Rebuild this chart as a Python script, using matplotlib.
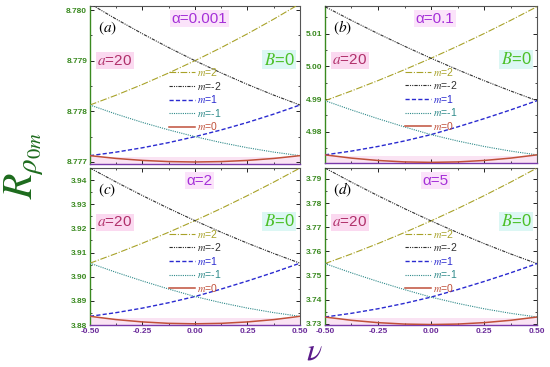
import matplotlib
matplotlib.use("Agg")
import matplotlib.pyplot as plt
from matplotlib.ticker import MultipleLocator, FormatStrFormatter

# ── fonts ──
plt.rcParams.update({
    "font.family": ["Liberation Sans", "DejaVu Sans"],
    "mathtext.fontset": "stix",
    "axes.unicode_minus": False,
})

# ── data ──
nu = [-0.5, -0.375, -0.25, -0.125, 0.0, 0.125, 0.25, 0.375, 0.5]

# panel (a), alpha = 0.001
a_m2 = [8.778125, 8.778320, 8.778531, 8.778758, 8.779000, 8.779258, 8.779531, 8.779820, 8.780125]
a_mm2 = [8.780125, 8.779820, 8.779531, 8.779258, 8.779000, 8.778758, 8.778531, 8.778320, 8.778125]
a_m1 = [8.777125, 8.777195, 8.777281, 8.777383, 8.777500, 8.777633, 8.777781, 8.777945, 8.778125]
a_mm1 = [8.778125, 8.777945, 8.777781, 8.777633, 8.777500, 8.777383, 8.777281, 8.777195, 8.777125]
a_m0 = [8.777125, 8.777070, 8.777031, 8.777008, 8.777000, 8.777008, 8.777031, 8.777070, 8.777125]

# panel (b), alpha = 0.1
b_m2 = [4.98950, 4.99249, 4.99565, 4.99899, 5.00250, 5.00619, 5.01005, 5.01409, 5.01830]
b_mm2 = [5.01830, 5.01409, 5.01005, 5.00619, 5.00250, 4.99899, 4.99565, 4.99249, 4.98950]
b_m1 = [4.97290, 4.97406, 4.97548, 4.97716, 4.97910, 4.98146, 4.98398, 4.98666, 4.98950]
b_mm1 = [4.98950, 4.98666, 4.98398, 4.98146, 4.97910, 4.97716, 4.97548, 4.97406, 4.97290]
b_m0 = [4.97290, 4.97190, 4.97118, 4.97074, 4.97060, 4.97074, 4.97118, 4.97190, 4.97290]

# panel (c), alpha = 2
c_m2 = [3.90560, 3.90961, 3.91388, 3.91841, 3.92320, 3.92826, 3.93358, 3.93916, 3.94500]
c_mm2 = [3.94500, 3.93916, 3.93358, 3.92826, 3.92320, 3.91841, 3.91388, 3.90961, 3.90560]
c_m1 = [3.88360, 3.88513, 3.88700, 3.88923, 3.89180, 3.89489, 3.89823, 3.90179, 3.90560]
c_mm1 = [3.90560, 3.90179, 3.89823, 3.89489, 3.89180, 3.88923, 3.88700, 3.88513, 3.88360]
c_m0 = [3.88360, 3.88224, 3.88128, 3.88069, 3.88050, 3.88069, 3.88128, 3.88224, 3.88360]

# panel (d), alpha = 5
d_m2 = [3.75492, 3.75894, 3.76323, 3.76779, 3.77260, 3.77768, 3.78303, 3.78863, 3.79450]
d_mm2 = [3.79450, 3.78863, 3.78303, 3.77768, 3.77260, 3.76779, 3.76323, 3.75894, 3.75492]
d_m1 = [3.73281, 3.73435, 3.73623, 3.73847, 3.74105, 3.74416, 3.74751, 3.75109, 3.75492]
d_mm1 = [3.75492, 3.75109, 3.74751, 3.74416, 3.74105, 3.73847, 3.73623, 3.73435, 3.73281]
d_m0 = [3.73281, 3.73145, 3.73048, 3.72989, 3.72970, 3.72989, 3.73048, 3.73145, 3.73281]

panel_tags = ["(a)", "(b)", "(c)", "(d)"]
alpha_labels = ["α=0.001", "α=0.1", "α=2", "α=5"]
ylims = [(8.77696, 8.78008), (4.9704, 5.0185), (3.8800, 3.9450), (3.7295, 3.7945)]
ysteps = [0.001, 0.01, 0.01, 0.01]
yfmts = ["%.3f", "%.2f", "%.2f", "%.2f"]
series = [
    [a_m2, a_mm2, a_m1, a_mm1, a_m0],
    [b_m2, b_mm2, b_m1, b_mm1, b_m0],
    [c_m2, c_mm2, c_m1, c_mm1, c_m0],
    [d_m2, d_mm2, d_m1, d_mm1, d_m0],
]
m_labels = ["$m$=2", "$m$=-2", "$m$=1", "$m$=-1", "$m$=0"]

# ── styles ──
line_colors = ["#a8a228", "#303030", "#2a2ad0", "#2f8a8a", "#c0503a"]
line_styles = [(0, (6, 1.5, 1, 1.5)), (0, (3, 1, 1, 1, 1, 1)), (0, (3, 1.6)), (0, (1, 1)), "-"]
line_widths = [0.8, 0.8, 1.0, 0.8, 1.1]
green = "#3a8a20"
purple = "#6a2a9a"

fig = plt.figure(figsize=(5.5, 3.67), dpi=100)
positions = [
    [0.1636, 0.5531, 0.3818, 0.4306],
    [0.5909, 0.5558, 0.3855, 0.4278],
    [0.1636, 0.1144, 0.3818, 0.4278],
    [0.5909, 0.1144, 0.3855, 0.4278],
]

for i, pos in enumerate(positions):
    ax = fig.add_axes(pos)
    lo, hi = ylims[i]
    # faint pink strip along the bottom
    ax.axhspan(lo, lo + (hi - lo) * 0.045, color="#fae3f3", lw=0, zorder=0)
    for k, ys in enumerate(series[i]):
        ax.plot(nu, ys, color=line_colors[k], ls=line_styles[k],
                lw=line_widths[k], label=m_labels[k], zorder=3)

    ax.set_xlim(-0.5, 0.5)
    ax.set_ylim(lo, hi)
    ax.xaxis.set_major_locator(MultipleLocator(0.25))
    ax.xaxis.set_minor_locator(MultipleLocator(0.125))
    ax.xaxis.set_major_formatter(FormatStrFormatter("%.2f"))
    ax.yaxis.set_major_locator(MultipleLocator(ysteps[i]))
    ax.yaxis.set_minor_locator(MultipleLocator(ysteps[i] / 2))
    ax.yaxis.set_major_formatter(FormatStrFormatter(yfmts[i]))
    ax.tick_params(which="both", direction="in", top=True, right=True)
    ax.tick_params(which="major", length=3, width=0.6)
    ax.tick_params(which="minor", length=1.5, width=0.5)
    ax.tick_params(axis="y", labelsize=6, labelcolor=green, pad=2)
    ax.tick_params(axis="x", labelsize=6, labelcolor=purple, pad=2.5)
    for lab in ax.get_xticklabels() + ax.get_yticklabels():
        lab.set_fontweight("bold")
    if i < 2:
        ax.tick_params(axis="x", labelbottom=False)

    ax.spines["left"].set_color(green)
    ax.spines["left"].set_linewidth(1.0)
    ax.spines["bottom"].set_color("#7a3aaa")
    ax.spines["bottom"].set_linewidth(1.0)
    ax.spines["top"].set_color("#555555")
    ax.spines["right"].set_color("#555555")

    # annotations
    ax.text(0.04, 0.86, "$" + panel_tags[i] + "$", transform=ax.transAxes,
            fontsize=11, color="black", ha="left", va="center")
    ax.text(0.52, 0.92, alpha_labels[i], transform=ax.transAxes,
            fontsize=11, color="#a530d8", ha="center", va="center",
            bbox=dict(boxstyle="square,pad=0.1", facecolor="#fbe3fa", edgecolor="none"))
    ax.text(0.035, 0.655, "$a$=20", transform=ax.transAxes,
            fontsize=11, color="#b0306a", ha="left", va="center",
            bbox=dict(boxstyle="square,pad=0.1", facecolor="#fbd9f0", edgecolor="none"))
    ax.text(0.975, 0.66, "$B$=0", transform=ax.transAxes,
            fontsize=12, color="#4cc028", ha="right", va="center",
            bbox=dict(boxstyle="square,pad=0.1", facecolor="#dcf7f4", edgecolor="none"))

    leg = ax.legend(loc="center", bbox_to_anchor=(0.5, 0.41), fontsize=7.5,
                    frameon=False, handlelength=2.5, handletextpad=0.2,
                    labelspacing=0.15, borderpad=0.2)
    for txt, col in zip(leg.get_texts(), line_colors):
        txt.set_color(col)

# axis titles
fig.text(0.045, 0.55, r"$R_{\rho_{0m}}$", rotation=90, fontsize=30,
         color="#1d6b1d", ha="center", va="center")
fig.text(0.572, 0.002, r"$\nu$", fontsize=23, color="#5a1a8a",
         ha="center", va="bottom")

fig.savefig("out.png", dpi=100)
